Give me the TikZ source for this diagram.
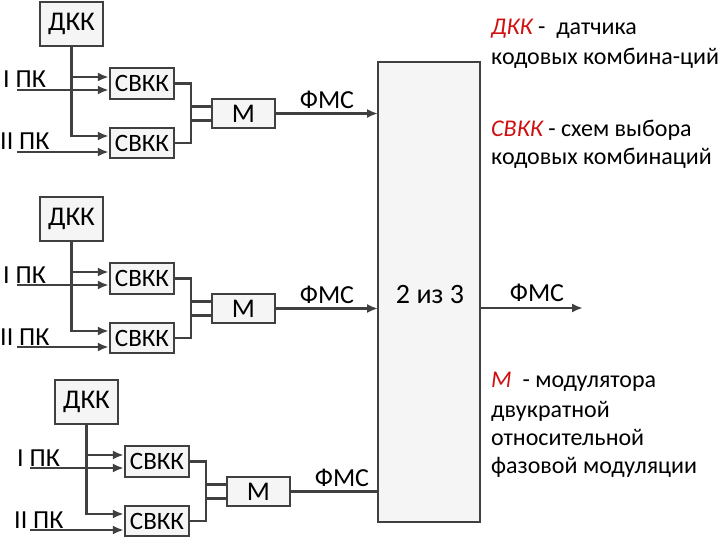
\documentclass[tikz,border=0pt]{standalone}
\usepackage{fontspec}
\setmainfont{Carlito}
\usetikzlibrary{arrows.meta}
\definecolor{ln}{HTML}{404040}
\definecolor{rd}{HTML}{D01010}
\tikzset{
  blk/.style={draw=ln,line width=2.4pt,fill=gray!8,inner sep=0pt,font=\fontsize{27}{29}\selectfont},
  sv/.style={blk,font=\fontsize{25}{27}\selectfont},
  wire/.style={draw=ln,line width=2.4pt},
  arr/.style={wire,-{Latex[length=11pt,width=9pt]}},
  lbl/.style={font=\fontsize{26}{28}\selectfont,inner sep=0pt},
  rt/.style={font=\fontsize{24}{26}\selectfont,inner sep=0pt,anchor=base west}
}
\begin{document}
\begin{tikzpicture}[x=1pt,y=-1pt]
\useasboundingbox (0,0) rectangle (720,540);
\foreach \dx/\dy/\sx/\la/\lb/\g in {0/0/17/3/0/a,0/195/17/3/0/b,15/378/30/17/14/c}{
\begin{scope}[shift={(\dx,\dy)}]
  \node[blk,minimum width=63pt,minimum height=44pt] (dkk\g) at (71.5,24) {ДКК};
  \node[sv,minimum width=64pt,minimum height=31pt] (sa\g) at (142,83.5) {СВКК};
  \node[sv,minimum width=64pt,minimum height=30pt] (sb\g) at (142,143) {СВКК};
  \node[blk,minimum width=63pt,minimum height=29pt] (m\g) at (243.5,113.5) {М};
  \coordinate (in1\g) at (\sx-\dx,90);
  \coordinate (in2\g) at (\sx-\dx,152);
  \node[lbl,anchor=base west] (l1\g) at (\la-\dx,88) {I ПК};
  \node[lbl,anchor=base west] (l2\g) at (\lb-\dx,150) {II ПК};
  \node[lbl] (f\g) at (327,100) {ФМС};
  \coordinate (br1\g) at (dkk\g.south |- 0,77);
  \coordinate (br2\g) at (dkk\g.south |- 0,136);
  \coordinate (mo\g) at (378,113.5);
\end{scope}
\draw[arr] (dkk\g.south) -- (br2\g) -- (br2\g -| sb\g.west);
\draw[arr] (br1\g) -- (br1\g -| sa\g.west);
\draw[arr] (in1\g) -- (in1\g -| sa\g.west);
\draw[arr] (in2\g) -- (in2\g -| sb\g.west);
\draw[wire] (sa\g.east) -| ([xshift=16pt,yshift=-7pt]sa\g.east |- m\g.west) -- ([yshift=-7pt]m\g.west);
\draw[wire] (sb\g.east) -| ([xshift=16pt,yshift=7pt]sb\g.east |- m\g.west) -- ([yshift=7pt]m\g.west);
\draw[arr] (m\g.east) -- (mo\g);
}
\node[blk,minimum width=102pt,minimum height=460pt] (big) at (429,292) {};
\node[lbl,font=\fontsize{28}{30}\selectfont] (t23) at (430,295) {2 из 3};
\coordinate (out) at (583,308);
\draw[arr] (big.east |- out) -- (out);
\node[lbl] (fo) at (537,293) {ФМС};
\node[rt] (r1) at (491,35) {\textcolor{rd}{\itshape ДКК} - \ датчика};
\node[rt] (r2) at (491,65) {кодовых комбина-ций};
\node[rt] (r3) at (491,137) {\textcolor{rd}{\itshape СВКК} - схем выбора};
\node[rt] (r4) at (491,165) {кодовых комбинаций};
\node[rt] (r5) at (491,387) {\textcolor{rd}{\itshape М} \ - модулятора};
\node[rt] (r6) at (491,417) {двукратной};
\node[rt] (r7) at (491,445) {относительной};
\node[rt] (r8) at (491,473) {фазовой модуляции};
\end{tikzpicture}
\end{document}
